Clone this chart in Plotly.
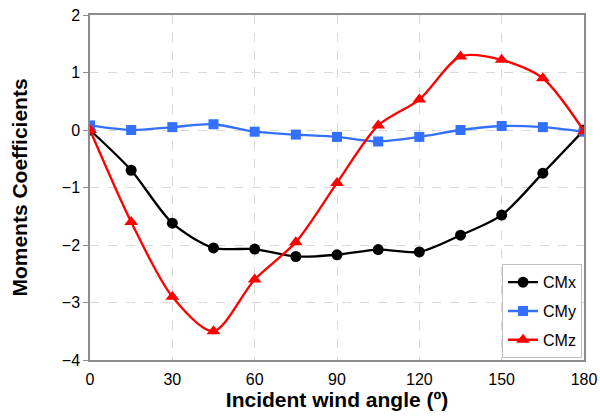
import plotly.graph_objects as go

angles = [0, 15, 30, 45, 60, 75, 90, 105, 120, 135, 150, 165, 180]
cmx = [0.0, -0.70, -1.62, -2.05, -2.07, -2.20, -2.17, -2.08, -2.12, -1.83, -1.48, -0.75, 0.0]
cmy = [0.08, 0.0, 0.05, 0.10, -0.03, -0.08, -0.12, -0.20, -0.12, 0.0, 0.07, 0.05, -0.03]
cmz = [0.0, -1.60, -2.90, -3.50, -2.60, -1.95, -0.92, 0.08, 0.53, 1.28, 1.22, 0.90, -0.02]

x_ticks = [0, 30, 60, 90, 120, 150, 180]
y_ticks = [-4, -3, -2, -1, 0, 1, 2]

FONT = "Liberation Sans, Arial, sans-serif"

fig = go.Figure()
series = [
    ("CMx", cmx, "black", "circle", 11),
    ("CMy", cmy, "#3370FF", "square", 10),
    ("CMz", cmz, "#FF0000", "triangle-up", 12),
]
for name, vals, color, sym, size in series:
    fig.add_trace(go.Scatter(
        x=angles, y=vals, name=name, mode="lines+markers", legendgroup=name,
        line=dict(color=color, width=2.3, shape="spline", smoothing=0.8),
        marker=dict(color=color, symbol=sym, size=size),
    ))

fig.update_layout(
    width=600, height=419,
    margin=dict(l=90, r=16, t=15, b=59),
    paper_bgcolor="white", plot_bgcolor="white",
    font=dict(family=FONT, size=16, color="black"),
    showlegend=True,
    legend=dict(
        x=0.996, y=0.005, xanchor="right", yanchor="bottom",
        bgcolor="white", bordercolor="#BFBFBF", borderwidth=1,
        font=dict(family=FONT, size=16),
        tracegroupgap=5, itemwidth=30,
    ),
)
fig.update_xaxes(
    range=[0, 180], tickvals=x_ticks, ticks="", showline=True,
    linecolor="#8C8C8C", linewidth=1.5, mirror=True,
    showgrid=True, gridcolor="#D9D9D9", griddash="dash", gridwidth=1,
    zeroline=False, automargin=False, ticklabelstandoff=4,
    title=dict(text="<b>Incident wind angle (º)</b>", font=dict(family=FONT, size=21), standoff=3),
    tickfont=dict(size=16),
)
fig.update_yaxes(
    range=[-4, 2], tickvals=y_ticks, ticks="outside", ticklen=5,
    tickcolor="#8C8C8C", showline=True,
    linecolor="#8C8C8C", linewidth=1.5, mirror=True,
    showgrid=True, gridcolor="#D9D9D9", griddash="dash", gridwidth=1,
    zeroline=False, automargin=False,
    title=dict(text="<b>Moments Coefficients</b>", font=dict(family=FONT, size=21), standoff=28),
    tickfont=dict(size=16),
)

fig.write_html("out.html")
